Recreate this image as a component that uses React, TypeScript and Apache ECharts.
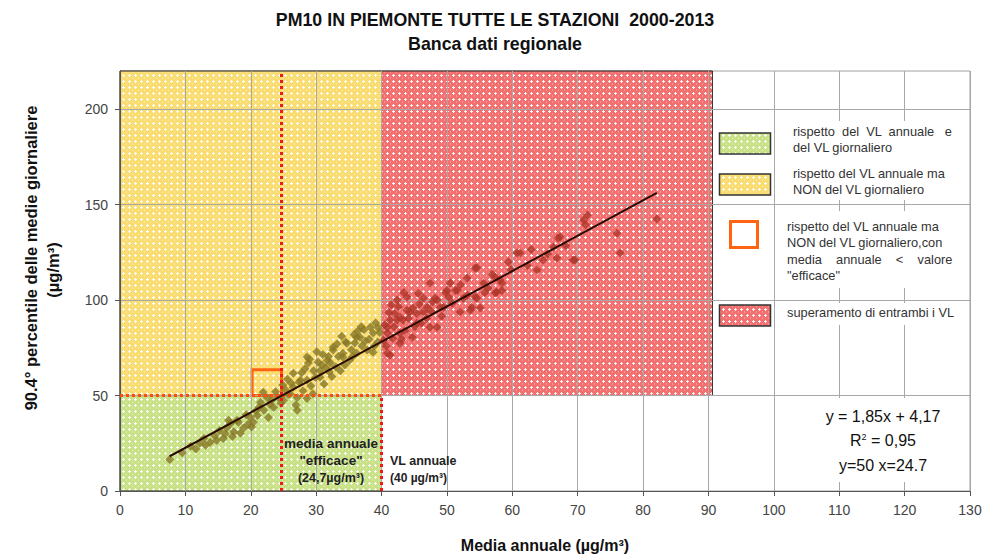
import React, { useEffect, useRef } from "react";
import * as echarts from "echarts";

const FONT = "'Liberation Sans', Arial, sans-serif";

const titleLines = ["PM10 IN PIEMONTE TUTTE LE STAZIONI  2000-2013", "Banca dati regionale"];
const xAxisName = "Media annuale (µg/m³)";
const yAxisNameLines = ["90.4° percentile delle medie giornaliere", "(µg/m³)"];

const xMin = 0;
const xMax = 130;
const xStep = 10;
const yMin = 0;
const yMax = 220;
const yStep = 50;
const yTickValues = [0, 50, 100, 150, 200];

const efficace = 24.7;
const vlAnnuale = 40;
const vlGiornaliero = 50;
const redLimitX = 90.6;
const orangeBoxX = [20.2, 24.7];
const orangeBoxY = [50, 63.5];

// points with annual mean below 40
const pointsLow: [number, number][] = [
  [7.6, 16.5], [9.5, 20], [10.8, 23.5], [12.2, 25], [13.1, 24], [13.8, 25.5], [14.5, 29], [15.2, 31.5],
  [15.8, 27.5], [16.3, 33], [16.6, 37], [16.9, 35.4], [17.4, 31], [17.9, 37], [18.1, 36], [18.4, 30.2],
  [18.9, 33], [19.3, 40], [19.9, 38.6], [20.4, 36], [20.8, 42], [21.3, 44], [21.5, 46.5], [21.9, 51.7],
  [22, 42.3], [22.5, 49], [22.9, 45.5], [23.5, 43.8], [23.8, 52], [24.2, 49], [24.6, 46], [25, 47.5],
  [25.3, 53], [25.7, 50.5], [26, 51], [26.2, 56.5], [26.5, 54.3], [26.5, 61.7], [26.9, 45], [27.1, 49],
  [27.1, 42.3], [27.4, 57], [27.6, 58], [28, 52.5], [28.3, 64], [28.6, 58], [28.6, 48.5], [28.6, 70.2],
  [28.8, 67], [29.2, 55], [29.6, 63], [29.9, 59.5], [30.3, 67.5], [30.6, 59.6], [30.6, 63], [31, 71.5],
  [31.2, 56], [31.7, 68.5], [32, 62.5], [32.2, 67], [32.6, 73.8], [32.6, 75.3], [33, 65], [33.4, 70.5],
  [33.7, 63], [34.1, 70], [34.1, 72.2], [34.5, 78], [34.7, 77.4], [35.1, 68.5], [35.4, 74], [35.8, 82],
  [36.2, 72.2], [36.2, 80.6], [36.7, 80.6], [37, 76], [37.3, 84.5], [37.8, 73.8], [38.1, 79.5], [38.3, 85.8],
  [38.7, 82.7], [38.7, 72.7], [39.1, 88], [39.4, 78], [39.7, 83], [29.5, 51], [31.5, 64.5], [33.2, 77],
  [35.6, 70.5], [36.9, 86], [24.9, 55.5], [22.7, 38.5], [20.1, 33.5], [17.2, 28.5], [30.1, 73],
  [27.8, 62], [29, 69], [30.9, 66], [32.4, 60], [34.4, 66], [35.9, 77.5], [37.5, 78.5], [38.9, 76],
  [39.5, 85.5], [36.4, 84], [33.9, 81], [31.9, 70.5], [25.6, 58.5], [23.2, 47.5], [21, 39.5], [19.6, 35],
  [16.1, 30], [14.8, 26.5], [12.8, 27.5], [11.6, 22],
];

// points with annual mean above 40
const pointsHigh: [number, number][] = [
  [40.3, 79], [40.5, 87], [40.9, 72.2], [40.9, 82.7], [40.9, 85.8], [41.3, 71.1], [41.3, 89.5], [41.7, 80],
  [42, 93], [42.4, 89.5], [42.4, 100], [42.8, 77.4], [42.8, 82.7], [42.8, 91], [43.3, 89.5], [43.6, 84],
  [43.9, 94.7], [43.9, 101.6], [44.4, 93.7], [44.7, 80.6], [44.8, 95.8], [45.1, 86], [45.4, 87.9], [45.4, 93],
  [45.8, 98], [46.4, 93.7], [46.4, 101], [46.9, 90.5], [47, 96.3], [47.4, 85.8], [47.4, 108.9], [47.8, 99],
  [48.2, 101], [48.5, 85.8], [48.5, 100], [49, 96.3], [49.5, 96.3], [49.8, 104], [50, 105], [50.5, 108.9],
  [50.8, 98.4], [51.3, 105], [51.6, 105], [52, 93.7], [52.5, 101], [53.1, 102.6], [53.1, 111.5], [53.6, 94.7],
  [53.8, 96.3], [54.3, 101.6], [54.3, 116.8], [54.6, 101], [54.6, 117], [55.1, 95.8], [55.6, 109], [56.3, 106.3],
  [57.4, 103.7], [57.4, 112], [57.6, 104.2], [58.1, 110.5], [58.4, 105], [58.4, 108.9], [59.4, 120], [60.7, 124.7],
  [61.2, 124.7], [62.3, 118], [63.8, 115.7], [64.7, 121], [66.3, 127.8], [66.8, 122], [67, 132.5], [67.3, 133],
  [69.3, 121], [69.6, 121], [70.9, 142], [71.2, 139.4], [71.5, 144.6], [76, 135], [76.5, 124.7], [82.1, 142.5],
  [40.7, 76], [41.1, 93.5], [41.9, 86], [42.6, 96.5], [43.1, 79.5], [44.1, 90.5], [45.6, 103.5], [46.1, 88],
  [47.6, 94], [49.2, 91.5], [50.3, 101.5], [52.1, 108], [55.8, 104], [56.9, 113.5], [59.8, 116], [62.9, 126.5],
  [65.4, 124], [68.2, 128.5], [41.5, 97.5], [43.4, 104],
];

const trendLine: [number, number][] = [[7.6, 18.2], [82.1, 156.1]];

const equationLines = ["y = 1,85x + 4,17", "R{sup|2} = 0,95", "y=50 x=24.7"];

const legendTexts = [
  ["rispetto  del  VL  annuale   e", "del VL giornaliero"],
  ["rispetto del VL annuale ma", "NON del VL giornaliero"],
  ["rispetto del VL annuale ma", "NON del VL giornaliero,con", "media    annuale    <    valore", "\"efficace\""],
  ["superamento di entrambi i VL"],
];

const GREEN = "#c9e288";
const YELLOW = "#fadd72";
const RED = "#f27070";
const ORANGE = "#ff6412";

function makePattern(base: string): any {
  try {
    const c = document.createElement("canvas");
    c.width = 6;
    c.height = 6;
    const g = c.getContext("2d");
    if (!g) return base;
    g.fillStyle = base;
    g.fillRect(0, 0, 6, 6);
    g.fillStyle = "rgba(255,255,255,0.9)";
    g.fillRect(3, 2, 1, 3);
    g.fillRect(2, 3, 3, 1);
    g.fillStyle = "rgba(255,255,255,0.25)";
    g.fillRect(0, 0, 1, 1);
    g.fillRect(0, 5, 1, 1);
    return { image: c.toDataURL(), repeat: "repeat", imageWidth: 6, imageHeight: 6 };
  } catch (e) {
    return base;
  }
}

export default function App() {
  const ref = useRef<HTMLDivElement>(null);
  useEffect(() => {
    if (!ref.current) return;
    const chart = echarts.init(ref.current, undefined, { renderer: "svg" });
    const pGreen = makePattern(GREEN);
    const pYellow = makePattern(YELLOW);
    const pRed = makePattern(RED);
    const txt = (x: number, y: number, text: string, style: any = {}) => ({
      type: "text",
      x,
      y,
      z: 20,
      style: { text, fontFamily: FONT, fontSize: 13, fill: "#333", ...style },
    });
    const legendText = (x: number, y0: number, lines: string[]) =>
      lines.map((l, i) => txt(x, y0 + i * 16.6, l, { textVerticalAlign: "middle", fontSize: 12.8 }));

    chart.setOption({
      animation: false,
      grid: { left: 120, right: 18, top: 71, bottom: 65, show: true, borderColor: "#a0a0a0", borderWidth: 1 },
      xAxis: {
        type: "value",
        min: xMin,
        max: xMax,
        interval: xStep,
        z: 2,
        axisLine: { show: true, onZero: false, lineStyle: { color: "#555", width: 1 } },
        axisTick: { show: true, length: 5, lineStyle: { color: "#555" } },
        axisLabel: { color: "#444", fontSize: 14, margin: 12, fontFamily: FONT },
        splitLine: { show: true, lineStyle: { color: "#a8a8a8", width: 1 } },
      },
      yAxis: {
        type: "value",
        min: yMin,
        max: yMax,
        interval: yStep,
        z: 2,
        axisLine: { show: true, onZero: false, lineStyle: { color: "#555", width: 1 } },
        axisTick: { show: true, length: 5, customValues: yTickValues, lineStyle: { color: "#555" } },
        axisLabel: { color: "#444", fontSize: 14, margin: 12, fontFamily: FONT, customValues: yTickValues },
        splitLine: { show: true, lineStyle: { color: "#a8a8a8", width: 1 } },
      },
      series: [
        {
          type: "line",
          data: [],
          z: 1,
          silent: true,
          markArea: {
            silent: true,
            label: { show: false },
            data: [
              [
                { coord: [xMin, yMin], itemStyle: { color: pGreen, borderColor: "#222", borderWidth: 1 } },
                { coord: [vlAnnuale, vlGiornaliero] },
              ],
              [
                { coord: [xMin, vlGiornaliero], itemStyle: { color: pYellow, borderColor: "#222", borderWidth: 1 } },
                { coord: [vlAnnuale, yMax] },
              ],
              [
                { coord: [vlAnnuale, vlGiornaliero], itemStyle: { color: pRed, borderColor: "#222", borderWidth: 1 } },
                { coord: [redLimitX, yMax] },
              ],
            ],
          },
        },
        {
          type: "scatter",
          data: pointsLow,
          z: 3,
          symbol: "diamond",
          symbolSize: 9,
          itemStyle: { color: "#877826" },
        },
        {
          type: "scatter",
          data: pointsHigh,
          z: 3,
          symbol: "diamond",
          symbolSize: 9,
          itemStyle: { color: "#ae3629" },
        },
        {
          type: "line",
          data: [],
          z: 4,
          silent: true,
          markLine: {
            silent: true,
            symbol: "none",
            label: { show: false },
            data: [
              [
                { coord: [efficace, yMin], lineStyle: { color: "#f01818", type: "dotted", width: 3 } },
                { coord: [efficace, yMax] },
              ],
              [
                { coord: [xMin, vlGiornaliero], lineStyle: { color: "#ff4a10", type: "dotted", width: 3 } },
                { coord: [vlAnnuale, vlGiornaliero] },
              ],
              [
                { coord: [vlAnnuale, yMin], lineStyle: { color: "#f01818", type: "dotted", width: 3 } },
                { coord: [vlAnnuale, vlGiornaliero] },
              ],
            ],
          },
          markArea: {
            silent: true,
            label: { show: false },
            data: [
              [
                { coord: [orangeBoxX[0], orangeBoxY[0]], itemStyle: { color: "rgba(0,0,0,0)", borderColor: ORANGE, borderWidth: 3 } },
                { coord: [orangeBoxX[1], orangeBoxY[1]] },
              ],
            ],
          },
        },
        {
          type: "line",
          data: trendLine,
          z: 5,
          symbol: "none",
          lineStyle: { color: "#2a0c04", width: 2 },
        },
      ],
      graphic: [
        txt(495, 20, titleLines[0], { fontSize: 17.8, fontWeight: "bold", fill: "#111", textAlign: "center", textVerticalAlign: "middle" }),
        txt(495, 44, titleLines[1], { fontSize: 17.8, fontWeight: "bold", fill: "#111", textAlign: "center", textVerticalAlign: "middle" }),
        txt(545, 545, xAxisName, { fontSize: 16, fontWeight: "bold", fill: "#111", textAlign: "center", textVerticalAlign: "middle" }),
        {
          type: "text",
          x: 31,
          y: 258,
          rotation: Math.PI / 2,
          z: 20,
          style: { text: yAxisNameLines[0], fontFamily: FONT, fontSize: 16.5, fontWeight: "bold", fill: "#111", textAlign: "center", textVerticalAlign: "middle" },
        },
        {
          type: "text",
          x: 53,
          y: 270,
          rotation: Math.PI / 2,
          z: 20,
          style: { text: yAxisNameLines[1], fontFamily: FONT, fontSize: 16.5, fontWeight: "bold", fill: "#111", textAlign: "center", textVerticalAlign: "middle" },
        },
        // legend white boxes
        { type: "rect", z: 15, shape: { x: 779, y: 121, width: 189, height: 79 }, style: { fill: "#fff" } },
        { type: "rect", z: 15, shape: { x: 779, y: 211, width: 189, height: 77 }, style: { fill: "#fff" } },
        { type: "rect", z: 15, shape: { x: 779, y: 303, width: 189, height: 22 }, style: { fill: "#fff" } },
        // swatches
        { type: "rect", z: 16, shape: { x: 719.5, y: 133, width: 51, height: 21 }, style: { fill: pGreen, stroke: "#333", lineWidth: 1.5 } },
        { type: "rect", z: 16, shape: { x: 719.5, y: 174, width: 51, height: 21 }, style: { fill: pYellow, stroke: "#333", lineWidth: 1.5 } },
        { type: "rect", z: 16, shape: { x: 730.5, y: 221.5, width: 27, height: 26 }, style: { fill: "#fff", stroke: ORANGE, lineWidth: 3 } },
        { type: "rect", z: 16, shape: { x: 719.5, y: 305, width: 51, height: 21 }, style: { fill: pRed, stroke: "#333", lineWidth: 1.5 } },
        ...legendText(793, 131, legendTexts[0]),
        ...legendText(793, 173, legendTexts[1]),
        ...legendText(787, 226, legendTexts[2]),
        ...legendText(787, 312, legendTexts[3]),
        // equation box
        { type: "rect", z: 15, shape: { x: 781, y: 398, width: 187, height: 84 }, style: { fill: "#fff" } },
        ...equationLines.map((l, i) => ({
          type: "text",
          x: 883,
          y: 416 + i * 24.5,
          z: 20,
          style: {
            text: l,
            fontFamily: FONT,
            fontSize: 16,
            fill: "#111",
            textAlign: "center",
            textVerticalAlign: "middle",
            rich: { sup: { fontSize: 9, verticalAlign: "top", padding: [0, 0, 8, 0], fontFamily: FONT, fill: "#111" } },
          },
        })),
        // annotations
        txt(331, 443, "media annuale", { fontSize: 13.5, fontWeight: "bold", fill: "#222", textAlign: "center", textVerticalAlign: "middle" }),
        txt(331, 460, "\"efficace\"", { fontSize: 13.5, fontWeight: "bold", fill: "#222", textAlign: "center", textVerticalAlign: "middle" }),
        txt(331, 478, "(24,7µg/m³)", { fontSize: 12.5, fontWeight: "bold", fill: "#222", textAlign: "center", textVerticalAlign: "middle" }),
        txt(390, 461, "VL annuale", { fontSize: 12.5, fontWeight: "bold", fill: "#222", textVerticalAlign: "middle" }),
        txt(390, 478, "(40 µg/m³)", { fontSize: 12, fontWeight: "bold", fill: "#222", textVerticalAlign: "middle" }),
      ],
    });
    return () => chart.dispose();
  }, []);
  return <div ref={ref} style={{ position: "fixed", left: 0, top: 0, width: 988, height: 556, background: "#fff" }} />;
}
